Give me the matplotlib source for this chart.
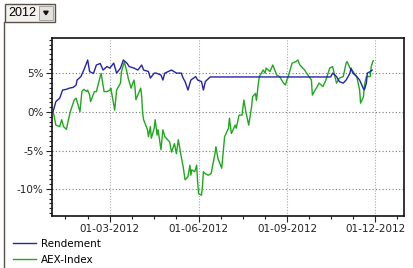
import numpy as np
import pandas as pd
import matplotlib
matplotlib.use("Agg")
import matplotlib.pyplot as plt
import matplotlib.dates as mdates
from matplotlib.ticker import FixedLocator, MultipleLocator, FuncFormatter
from matplotlib.patches import Rectangle, Polygon
from matplotlib.lines import Line2D

year = "2012"

rend_dates = ["01-02", "01-05", "01-09", "01-12", "01-16", "01-19", "01-23", "01-26",
              "01-27", "01-31", "02-03", "02-07", "02-09", "02-13", "02-16", "02-20",
              "02-23", "02-27", "03-01", "03-05", "03-08", "03-12", "03-15", "03-19",
              "03-21", "03-26", "03-30", "04-03", "04-05", "04-10", "04-12", "04-16",
              "04-18", "04-23", "04-25", "04-27", "05-04", "05-09", "05-14", "05-16",
              "05-18", "05-21", "05-24", "05-29", "05-31", "06-04", "06-06", "06-08",
              "06-13", "10-16", "10-18", "10-22", "10-25", "10-29", "11-01", "11-05",
              "11-06", "11-08", "11-12", "11-15", "11-19", "11-20", "11-22", "11-23",
              "11-26", "11-28"]
rend_values = [0.0, 1.35, 1.8, 2.85, 2.95, 3.1, 3.2, 3.5,
               4.15, 4.6, 5.45, 6.75, 5.25, 5.0, 6.1, 6.3,
               5.45, 5.9, 5.7, 6.35, 5.05, 5.7, 6.75, 6.3,
               5.9, 5.7, 5.45, 6.1, 5.45, 5.25, 4.4, 5.05,
               5.05, 4.8, 4.15, 5.05, 5.45, 5.05, 5.05, 4.4,
               3.95, 2.85, 4.15, 4.6, 4.15, 3.95, 2.85, 3.95,
               4.55, 4.55, 5.05, 4.6, 3.95, 3.75, 4.15, 5.05,
               5.7, 5.05, 4.6, 4.15, 3.0, 2.9, 3.75, 5.05,
               5.25, 5.45]

aex_dates = ["01-02", "01-03", "01-05", "01-09", "01-11", "01-13", "01-16", "01-18",
             "01-20", "01-24", "01-26", "01-27", "01-30", "02-01", "02-03", "02-06",
             "02-07", "02-09", "02-10", "02-14", "02-16", "02-20", "02-21", "02-24",
             "02-27", "03-01", "03-02", "03-06", "03-08", "03-12", "03-13", "03-16",
             "03-19", "03-20", "03-21", "03-23", "03-26", "03-27", "03-28", "03-30",
             "04-02", "04-03", "04-04", "04-05", "04-09", "04-10", "04-12", "04-13",
             "04-16", "04-17", "04-19", "04-20", "04-23", "04-25", "04-27", "05-02",
             "05-04", "05-07", "05-09", "05-11", "05-14", "05-16", "05-18", "05-21",
             "05-23", "05-24", "05-25", "05-28", "05-30", "05-31", "06-01", "06-04",
             "06-05", "06-06", "06-08", "06-11", "06-14", "06-18", "06-19", "06-21",
             "06-25", "06-28", "07-02", "07-03", "07-05", "07-09", "07-10", "07-13",
             "07-16", "07-18", "07-20", "07-23", "07-26", "07-27", "07-30", "07-31",
             "08-02", "08-03", "08-07", "08-09", "08-10", "08-14", "08-17", "08-21",
             "08-24", "08-28", "08-30", "09-03", "09-06", "09-10", "09-12", "09-14",
             "09-19", "09-21", "09-26", "09-27", "10-01", "10-04", "10-08", "10-11",
             "10-15", "10-18", "10-22", "10-25", "10-29", "11-01", "11-02", "11-05",
             "11-07", "11-12", "11-15", "11-16", "11-19", "11-20", "11-22", "11-26",
             "11-27", "11-29"]
aex_values = [0.0, -0.4, -1.7, -1.9, -1.0, -1.9, -2.25, -1.0,
              0.05, 1.55, 1.8, 1.35, 0.05, 2.65, 2.95, 2.65,
              2.85, 2.2, 1.35, 2.65, 2.65, 4.6, 5.0, 2.65,
              2.65, 2.85, 3.1, 0.25, 2.85, 3.75, 5.25, 6.5,
              5.05, 4.4, 3.95, 3.1, 4.15, 3.3, 1.6, 2.2,
              3.1, 2.0, -0.15, -1.0, -2.3, -3.2, -1.9, -3.4,
              -2.1, -1.0, -3.0, -2.3, -4.9, -2.3, -3.2, -3.9,
              -5.2, -4.1, -5.4, -3.6, -5.8, -7.1, -8.8, -8.4,
              -6.9, -8.2, -7.5, -7.75, -6.9, -9.05, -10.6, -10.8,
              -9.7, -7.75, -8.0, -8.2, -8.0, -5.4, -4.5, -6.0,
              -7.3, -3.2, -2.1, -0.8, -2.8, -1.7, -2.1, -0.4,
              -0.4, 1.55, 0.05, -1.7, 0.7, 2.0, 2.4, 1.5,
              3.7, 4.6, 5.45, 5.05, 5.7, 5.25, 6.1, 4.8,
              4.6, 3.75, 3.5, 5.05, 6.35, 6.55, 6.75, 6.1,
              5.45, 5.05, 4.15, 2.2, 3.1, 3.75, 3.3, 4.15,
              5.7, 5.9, 3.75, 4.4, 4.6, 6.35, 6.55, 5.7,
              5.45, 4.6, 2.85, 1.15, 2.0, 3.5, 4.6, 4.6,
              5.9, 6.65]

major_dates = ["2012-03-01", "2012-06-01", "2012-09-01", "2012-12-01"]
y_major = [-10, -5, 0, 5]

rend_x = pd.to_datetime([year + "-" + d for d in rend_dates])
aex_x = pd.to_datetime([year + "-" + d for d in aex_dates])

fig = plt.figure(figsize=(4.14, 2.68), dpi=100)
ax = fig.add_axes([0.1256, 0.194, 0.8502, 0.664])

# blue drawn on top like the reference
l1, = ax.plot(rend_x, rend_values, color="#2424a8", lw=1.0, label="Rendement", zorder=3)
l2, = ax.plot(aex_x, aex_values, color="#1fa81f", lw=1.0, label="AEX-Index")

ax.set_xlim(pd.Timestamp("2012-01-01"), pd.Timestamp("2012-12-31"))
ax.set_ylim(-13.5, 9.6)

maj = mdates.date2num(pd.to_datetime(major_dates))
step = (maj[1] - maj[0]) / 4
minor = [maj[0] - 2 * step, maj[0] - step]
for a, b in zip(maj[:-1], maj[1:]):
    s = (b - a) / 4
    minor += [a + s, a + 2 * s, a + 3 * s]
minor.append(maj[-1] + step)
ax.xaxis.set_major_locator(FixedLocator(maj))
ax.xaxis.set_minor_locator(FixedLocator(minor))
ax.xaxis.set_major_formatter(mdates.DateFormatter("%d-%m-%Y"))

ax.yaxis.set_major_locator(FixedLocator(y_major))
ax.yaxis.set_minor_locator(MultipleLocator(0.625))
ax.yaxis.set_major_formatter(FuncFormatter(lambda v, p: "%d%%" % v))

ax.tick_params(which="major", direction="out", length=4, width=0.8,
               labelsize=7.5, colors="#222222", pad=2)
ax.tick_params(which="minor", direction="out", length=2.5, width=0.8, colors="#222222")
ax.grid(True, which="major", axis="y", color="#777777", ls=(0, (1, 2)), lw=0.8)
ax.grid(True, which="major", axis="x", color="#aaaaaa", ls=(0, (1, 1.5)), lw=0.8)
for sp in ax.spines.values():
    sp.set_color("#111111")
    sp.set_linewidth(1.2)

fig.legend(handles=[l1, l2], loc="upper left", bbox_to_anchor=(0.031, 0.11),
           frameon=False, fontsize=7.5, handlelength=2.2, handletextpad=0.5,
           labelspacing=0.6, borderpad=0.0, borderaxespad=0.0)

# year drop-down and left border
fig.add_artist(Line2D([0.0085, 0.0085], [0.0, 0.918], color="#5a5048", lw=1.0))
fig.add_artist(Rectangle((0.012, 0.918), 0.121, 0.067, transform=fig.transFigure,
                         facecolor="#f4f2ee", edgecolor="#5a5048", lw=1.0))
fig.add_artist(Rectangle((0.095, 0.926), 0.033, 0.050, transform=fig.transFigure,
                         facecolor="#e4e2de", edgecolor="#999999", lw=0.6))
fig.add_artist(Polygon([[0.1055, 0.958], [0.1165, 0.958], [0.111, 0.945]],
                       closed=True, transform=fig.transFigure, color="#111111"))
fig.text(0.02, 0.951, year, fontsize=9, family="Liberation Sans", va="center", ha="left")

fig.savefig("out.png", dpi=100)
